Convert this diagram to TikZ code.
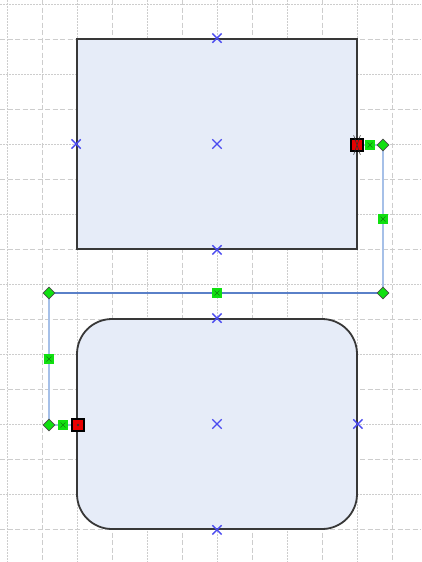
\documentclass[tikz,border=0pt]{standalone}
\usetikzlibrary{shapes.geometric,shapes.misc}
\definecolor{gridc}{HTML}{CDCDCD}
\definecolor{boxfill}{HTML}{E6ECF8}
\definecolor{boxline}{HTML}{383838}
\definecolor{connlight}{HTML}{A6C0E8}
\definecolor{conndark}{HTML}{5A80C8}
\definecolor{xblue}{HTML}{4A4AF0}
\definecolor{gfill}{HTML}{10E010}
\definecolor{gdark}{HTML}{108010}
\definecolor{rfill}{HTML}{E80000}
\tikzset{
  dashgrid/.style={draw=gridc, line width=1pt, dash pattern=on 5pt off 2.5pt},
  dotgrid/.style={draw=gridc, line width=1pt, dash pattern=on 1.5pt off 1.5pt},
  shapebox/.style={draw=boxline, fill=boxfill, line width=1.8pt, inner sep=0pt, minimum width=280pt, minimum height=210pt},
  xmk/.style={cross out, draw=xblue, line width=1.3pt, minimum size=8pt, inner sep=0pt},
  gsq/.style={rectangle, fill=gfill, draw=gfill, minimum size=9pt, inner sep=0pt,
    path picture={\draw[gdark, line width=0.6pt] ([shift={(2pt,2pt)}]path picture bounding box.south west) -- ([shift={(-2pt,-2pt)}]path picture bounding box.north east)
      ([shift={(2pt,-2pt)}]path picture bounding box.north west) -- ([shift={(-2pt,2pt)}]path picture bounding box.south east);}},
  gdia/.style={diamond, fill=gfill, draw=black!70, line width=0.7pt, minimum size=12pt, inner sep=0pt},
  rsq/.style={rectangle, fill=rfill, draw=black, line width=1.1pt, minimum size=12pt, inner sep=0pt},
  conn/.style={draw=connlight, line width=2.8pt},
  conns/.style={draw=conndark, line width=1.5pt},
}
\begin{document}
\begin{tikzpicture}[x=1pt,y=-1pt]
\useasboundingbox (0,0) rectangle (421,562);
\fill[white] (0,0) rectangle (421,562);
% grid
\foreach \j in {0,...,5} {
  \draw[dotgrid] ({7+70*\j},0) -- ({7+70*\j},562);
  \draw[dashgrid] ({42+70*\j},0) -- ({42+70*\j},562);
}
\foreach \j in {0,...,7} {
  \draw[dotgrid] (0,{4+70*\j}) -- (421,{4+70*\j});
  \draw[dashgrid] (0,{39+70*\j}) -- (421,{39+70*\j});
}
% shapes
\node[shapebox] (a) at (217,144) {};
\node[shapebox, rounded corners=35pt] (b) at (217,424) {};
% connector
\coordinate (d1) at (383,145);
\coordinate (d2) at (383,293);
\coordinate (d3) at (49,293);
\coordinate (d4) at (49,425);
\draw[conn] (a.east |- d1) -- (d1) -- (d2);
\draw[conn] (d3) -- (d4) -- (b.west |- d4);
\draw[conns] (d2) -- (d3);
% blue markers
\node[xmk] (xa1) at (a.north) {};
\node[xmk] (xa2) at (a.west) {};
\node[xmk] (xa3) at (a.center) {};
\node[xmk] (xa4) at (a.south) {};
\node[xmk] (xb1) at (b.north) {};
\node[xmk] (xb2) at (b.center) {};
\node[xmk] (xb3) at (b.east) {};
\node[xmk] (xb4) at (b.south) {};
% connector handles
\node[gsq] (g1) at (370,145) {};
\node[gsq] (g2) at (383,219) {};
\node[gsq] (g3) at (217,293) {};
\node[gsq] (g4) at (49,359) {};
\node[gsq] (g5) at (63,425) {};
\node[gdia] (p1) at (d1) {};
\node[gdia] (p2) at (d2) {};
\node[gdia] (p3) at (d3) {};
\node[gdia] (p4) at (d4) {};
\node[rsq] (r1) at (357,145) {};
\draw[black!80, line width=0.6pt] ([shift={(3.2pt,3.2pt)}]r1.north west) -- ([shift={(-3.2pt,-3.2pt)}]r1.south east)
  ([shift={(3.2pt,-3.2pt)}]r1.south west) -- ([shift={(-3.2pt,3.2pt)}]r1.north east);
\node[rsq] (r2) at (78,425) {};
\fill[black!80] (r2.center) circle (1.3pt);
\end{tikzpicture}
\end{document}
